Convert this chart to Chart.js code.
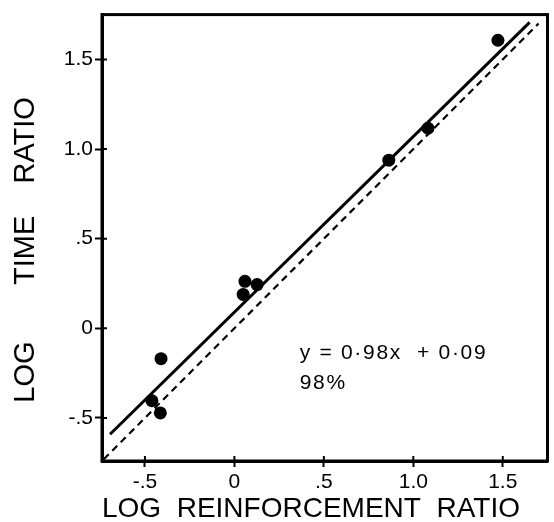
<!DOCTYPE html>
<html lang="en">
<head>
  <meta charset="UTF-8" />
  <title>Log time ratio vs log reinforcement ratio</title>
  <style>
    body { margin:0; background:#fff; }
    canvas { display:block; }
  </style>
  <script src="https://cdn.jsdelivr.net/npm/chart.js"></script>
</head>
<body>
  <canvas id="plot" width="554" height="522"></canvas>

  <script>
    // data
    const ptX = [1.473, 1.082, 0.863, 0.059, 0.127, 0.049, -0.41, -0.461, -0.414];
    const ptY = [1.607, 1.116, 0.938, 0.262, 0.244, 0.189, -0.169, -0.404, -0.472];

    // fitted line y = 0.98x + 0.09, drawn end to end as in the figure
    const fitX = [-0.695, 1.65];
    const fitY = [-0.591, 1.707];

    // identity (dashed) line
    const idX = [-0.73, 1.70];
    const idY = [-0.73, 1.70];

    const tickVals = [-0.5, 0, 0.5, 1.0, 1.5];
    const tickText = ['-.5', '0', '.5', '1.0', '1.5'];

    const eqLines = ['y = 0·98x  + 0·09', '98%'];
    const eqX = 0.365;
    const eqY = [-0.172, -0.34];

    const toXY = (xs, ys) => xs.map((x, i) => ({ x: x, y: ys[i] }));

    const FAM = '"Liberation Sans", Arial, sans-serif';
    const tickFont = { family: FAM, size: 21 };

    // box round the plot, inner half of the ticks, and the equation
    const frame = {
      id: 'frame',
      afterDraw(c) {
        const { ctx, chartArea: a, scales } = c;
        ctx.save();
        ctx.strokeStyle = '#000';
        ctx.lineWidth = 3;
        ctx.strokeRect(a.left, a.top, a.right - a.left, a.bottom - a.top);
        ctx.lineWidth = 2;
        ctx.beginPath();
        tickVals.forEach(v => {
          const px = scales.x.getPixelForValue(v);
          ctx.moveTo(px, a.bottom); ctx.lineTo(px, a.bottom - 5);
          const py = scales.y.getPixelForValue(v);
          ctx.moveTo(a.left, py); ctx.lineTo(a.left + 5, py);
        });
        ctx.stroke();

        ctx.fillStyle = '#000';
        ctx.font = '21px ' + FAM;
        ctx.letterSpacing = '1.7px';
        ctx.textBaseline = 'alphabetic';
        eqLines.forEach((t, i) => {
          ctx.fillText(t, scales.x.getPixelForValue(eqX), scales.y.getPixelForValue(eqY[i]));
        });
        ctx.restore();
      }
    };

    new Chart(document.getElementById('plot'), {
      type: 'scatter',
      data: {
        datasets: [
          {
            data: toXY(ptX, ptY),
            pointRadius: 6.5,
            pointBackgroundColor: '#000',
            pointBorderWidth: 0,
            order: 0
          },
          {
            type: 'line',
            data: toXY(fitX, fitY),
            borderColor: '#000',
            borderWidth: 3,
            pointRadius: 0,
            fill: false,
            order: 1
          },
          {
            type: 'line',
            data: toXY(idX, idY),
            borderColor: '#000',
            borderWidth: 2.2,
            borderDash: [7, 5],
            pointRadius: 0,
            fill: false,
            order: 2
          }
        ]
      },
      options: {
        responsive: false,
        animation: false,
        layout: { padding: { left: 4, right: 2, top: 11, bottom: 0 } },
        plugins: { legend: { display: false }, tooltip: { enabled: false } },
        scales: {
          x: {
            type: 'linear',
            min: -0.74,
            max: 1.75,
            afterFit: s => { s.height = 61; },
            afterBuildTicks: s => { s.ticks = tickVals.map(v => ({ value: v })); },
            border: { display: true, color: '#000', width: 3 },
            grid: { drawOnChartArea: false, drawTicks: true, tickLength: 6, tickWidth: 2, tickColor: '#000' },
            ticks: {
              color: '#000',
              font: tickFont,
              padding: 3,
              maxRotation: 0,
              callback: v => tickText[tickVals.indexOf(v)]
            },
            title: {
              display: true,
              text: 'LOG  REINFORCEMENT  RATIO',
              align: 'start',
              color: '#000',
              font: { family: FAM, size: 28, lineHeight: 0.93 },
              padding: 0
            }
          },
          y: {
            type: 'linear',
            min: -0.74,
            max: 1.75,
            afterFit: s => { s.width = 98; },
            afterBuildTicks: s => { s.ticks = tickVals.map(v => ({ value: v })); },
            border: { display: true, color: '#000', width: 3 },
            grid: { drawOnChartArea: false, drawTicks: true, tickLength: 7, tickWidth: 2, tickColor: '#000' },
            ticks: {
              color: '#000',
              font: tickFont,
              padding: 2,
              callback: v => tickText[tickVals.indexOf(v)]
            },
            title: {
              display: true,
              text: 'LOG       TIME    RATIO   ',
              color: '#000',
              font: { family: FAM, size: 29, lineHeight: 1 },
              padding: { top: 7, bottom: 0 }
            }
          }
        }
      },
      plugins: [frame]
    });
  </script>
</body>
</html>
